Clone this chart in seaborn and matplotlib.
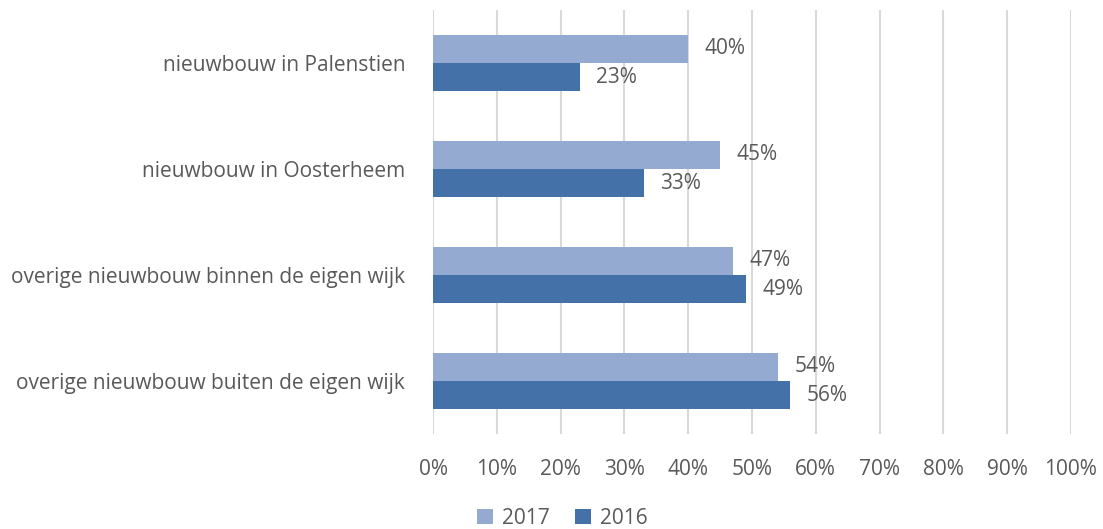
import matplotlib
matplotlib.use("Agg")
import matplotlib.pyplot as plt
import seaborn as sns
import pandas as pd

categories = ["nieuwbouw in Palenstien", "nieuwbouw in Oosterheem",
              "overige nieuwbouw binnen de eigen wijk",
              "overige nieuwbouw buiten de eigen wijk"]
years = ["2017", "2016"]
values_2017 = [40, 45, 47, 54]
values_2016 = [23, 33, 49, 56]
xticks = [0, 10, 20, 30, 40, 50, 60, 70, 80, 90, 100]

df = pd.DataFrame({
    "cat": categories * 2,
    "year": ["2017"] * 4 + ["2016"] * 4,
    "val": values_2017 + values_2016,
})

sns.set_style("white")
plt.rcParams['font.family'] = ['Open Sans', 'DejaVu Sans']
text_color = "#595959"
fs = 15

fig = plt.figure(figsize=(11.03, 5.29), dpi=100)
ax = fig.add_axes([433/1103, 1 - 434/529, (1071-433)/1103, 424/529])

palette = {"2017": "#95AAD1", "2016": "#4472A8"}
sns.barplot(data=df, y="cat", x="val", hue="year", hue_order=years,
            order=categories, orient="h", palette=palette, width=0.53,
            saturation=1, ax=ax, legend=True, linewidth=0)

for cont in ax.containers:
    ax.bar_label(cont, labels=[f"{int(v)}%" for v in cont.datavalues],
                 padding=12, fontsize=fs, color=text_color)

ax.set_xlim(0, 100)
ax.set_ylim(3.5, -0.5)
ax.set_xticks(xticks)
ax.set_xticklabels([f"{t}%" for t in xticks], fontsize=fs, color=text_color)
ax.tick_params(axis="x", length=0, pad=18)
ax.tick_params(axis="y", length=0, pad=20, labelsize=fs, labelcolor=text_color)
ax.set_xlabel("")
ax.set_ylabel("")
ax.grid(axis="x", color="#D9D9D9", linewidth=1.5)
ax.set_axisbelow(True)
for s in ax.spines.values():
    s.set_visible(False)

ax.legend(loc="lower center", bbox_to_anchor=(562/1103, -0.035), bbox_transform=fig.transFigure,
          ncol=2, frameon=False, fontsize=fs, handlelength=0.8, handleheight=0.8,
          handletextpad=0.4, columnspacing=1.2, labelcolor=text_color)

fig.savefig("out.png", dpi=100)
